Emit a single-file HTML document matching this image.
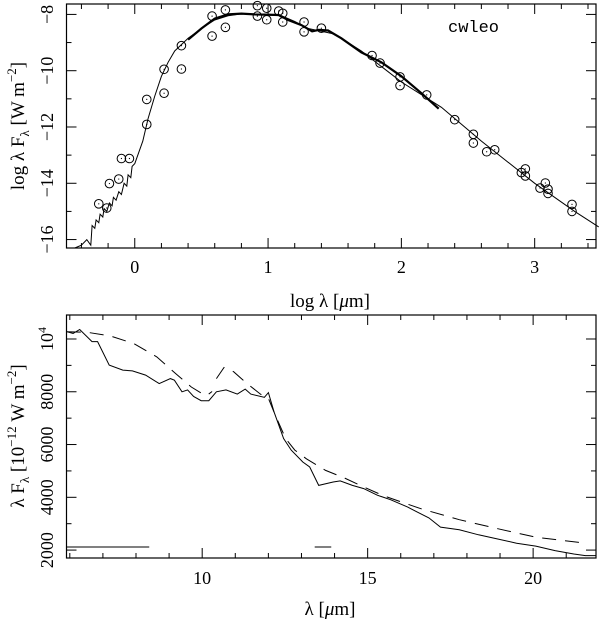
<!DOCTYPE html>
<html><head><meta charset="utf-8">
<style>
body{margin:0;background:#fff;}
svg{display:block;font-family:"Liberation Serif",serif;}
text{fill:#000;}
</style></head>
<body>
<svg id="chart" width="600" height="629" viewBox="0 0 600 629" xmlns="http://www.w3.org/2000/svg">
<rect width="600" height="629" fill="#fff"/>
</svg>
<script>
// ---- Top panel data ----
const topPtsX = [-0.27,-0.21,-0.19,-0.12,-0.10,-0.04,0.09,0.09,0.22,0.22,0.35,0.35,0.58,0.58,0.68,0.68,0.92,0.92,0.99,0.99,1.08,1.11,1.11,1.27,1.27,1.40,1.78,1.84,1.99,1.99,2.19,2.40,2.54,2.54,2.64,2.70,2.90,2.93,2.93,3.04,3.08,3.10,3.10,3.28,3.28];
const topPtsY = [-14.73,-14.88,-14.01,-13.85,-13.12,-13.12,-11.91,-11.02,-9.95,-10.8,-9.11,-9.94,-8.06,-8.77,-7.84,-8.46,-7.69,-8.06,-7.78,-8.19,-7.88,-7.96,-8.27,-8.27,-8.62,-8.49,-9.46,-9.73,-10.22,-10.53,-10.86,-11.74,-12.26,-12.57,-12.88,-12.81,-13.62,-13.49,-13.74,-14.17,-13.99,-14.21,-14.36,-14.75,-15.0];
const modelX = [-0.45,-0.40,-0.36,-0.33,-0.32,-0.30,-0.29,-0.27,-0.26,-0.24,-0.23,-0.21,-0.19,-0.17,-0.16,-0.14,-0.12,-0.10,-0.08,-0.06,-0.05,-0.03,-0.02,0.0,0.03,0.06,0.1,0.15,0.2,0.25,0.3,0.4,0.5,0.6,0.7,0.8,0.9,1.0,1.1,1.2,1.3,1.4,1.5,1.7,2.0,2.3,2.6,3.0,3.3,3.48];
const modelY = [-16.3,-16.2,-16.0,-16.2,-15.5,-15.6,-15.3,-15.4,-15.1,-15.2,-14.9,-15.0,-14.7,-14.8,-14.5,-14.6,-14.3,-14.4,-14.0,-14.1,-13.7,-13.8,-13.4,-13.3,-12.9,-12.5,-11.7,-10.9,-10.2,-9.7,-9.3,-8.85,-8.5,-8.2,-8.05,-7.98,-8.0,-8.02,-8.05,-8.25,-8.5,-8.6,-8.7,-9.3,-10.4,-11.3,-12.5,-14.0,-15.0,-15.55];
const specX = [0.4,0.5,0.6,0.7,0.8,0.9,1.08,1.15,1.25,1.33,1.38,1.45,1.55,1.7,1.85,2.0,2.15,2.28];
const specY = [-8.9,-8.5,-8.15,-8.0,-7.97,-8.0,-8.02,-8.2,-8.38,-8.6,-8.55,-8.57,-8.85,-9.35,-9.7,-10.2,-10.8,-11.35];
const topXTicks = [0,1,2,3];
const topYTicks = [-8,-10,-12,-14,-16];
// ---- Bottom panel data ----
const solidX = [5.91,6.1,6.3,6.67,6.84,7.19,7.6,7.89,8.29,8.7,9.04,9.16,9.39,9.56,9.74,9.97,10.2,10.43,10.72,11.06,11.3,11.47,11.88,12.0,12.17,12.46,12.69,13.04,13.25,13.52,13.96,14.17,14.54,14.88,15.29,15.69,16.21,16.5,16.85,17.2,17.77,18.35,18.93,19.5,20.08,20.66,21.23,21.58,21.9];
const solidY = [10277,10210,10360,9900,9900,9010,8820,8790,8630,8310,8500,8440,8000,8070,7820,7660,7660,8000,8070,7910,8100,7910,7790,7970,7240,6230,5790,5340,5150,4450,4580,4620,4450,4330,4080,3910,3630,3440,3220,2870,2770,2580,2420,2260,2150,1980,1850,1790,1790];
const dashX = [5.91,6.55,7.24,7.93,8.63,9.2,9.67,9.97,10.14,10.3];
const dashY = [10277,10250,10110,9830,9320,8690,8180,7950,7860,8010];
const dash2X = [10.43,10.66,10.95,11.3,11.76,12.0,12.2,12.52,12.8,13.15,13.73,14.3,14.88,15.46,16.03,16.61,17.77,18.93,20.08,21.58];
const dash2Y = [8500,8920,8760,8370,7910,7750,7140,6230,5790,5460,5020,4730,4390,4070,3820,3570,3150,2810,2490,2260];
const botXTicks = [10,15,20];
const botYTicks = [2000,4000,6000,8000,10000];

const NS='http://www.w3.org/2000/svg';
const svg=document.getElementById('chart');
function mk(tag,attrs,parent){const e=document.createElementNS(NS,tag);for(const k in attrs)e.setAttribute(k,attrs[k]);(parent||svg).appendChild(e);return e;}

const T={l:66.5,r:596,t:4,b:248,x0:-0.512,x1:3.46,y0:-16.3,y1:-7.63};
const B={l:66.5,r:596,t:315,b:558,x0:5.9,x1:21.9,y0:1700,y1:10909};
const sx=(P,v)=>P.l+(v-P.x0)/(P.x1-P.x0)*(P.r-P.l);
const sy=(P,v)=>P.b-(v-P.y0)/(P.y1-P.y0)*(P.b-P.t);
function path(P,xs,ys){return xs.map((x,i)=>(i?'L':'M')+sx(P,x).toFixed(1)+','+sy(P,ys[i]).toFixed(1)).join('');}

function frame(P,name,xMinor,yMinor){
  const g=mk('g',{});
  
  
  mk('rect',{x:P.l,y:P.t,width:P.r-P.l,height:P.b-P.t,fill:'none',stroke:'#000','stroke-width':1.2},g);
  const big=(v,list)=>list.some(t=>Math.abs(t-v)<1e-6);
  for(let v=Math.ceil(P.x0/xMinor.s)*xMinor.s;v<=P.x1;v+=xMinor.s){
    const x=sx(P,v),L=big(v,xMinor.major)?10:5;
    mk('line',{x1:x,x2:x,y1:P.b,y2:P.b-L,stroke:'#000'},g);
    mk('line',{x1:x,x2:x,y1:P.t,y2:P.t+L,stroke:'#000'},g);
  }
  for(let v=Math.ceil(P.y0/yMinor.s)*yMinor.s;v<=P.y1;v+=yMinor.s){
    const y=sy(P,v),L=big(v,yMinor.major)?10:5;
    mk('line',{x1:P.l,x2:P.l+L,y1:y,y2:y,stroke:'#000'},g);
    mk('line',{x1:P.r,x2:P.r-L,y1:y,y2:y,stroke:'#000'},g);
  }
}
frame(T,'top-panel',{s:0.2,major:[0,1,2,3]},{s:1,major:[-8,-10,-12,-14,-16]});
frame(B,'bottom-panel',{s:1,major:[10,15,20]},{s:1000,major:[2000,4000,6000,8000,10000]});

topXTicks.forEach(v=>{const t=mk('text',{x:sx(T,v),y:273,'font-size':18,'text-anchor':'middle'});t.textContent=v;

});
topYTicks.forEach(v=>{const y=sy(T,v);const t=mk('text',{x:0,y:0,'font-size':18,'text-anchor':'middle',transform:`translate(53,${y}) rotate(-90)`});t.textContent='\u2212'+Math.abs(v);

});
botXTicks.forEach(v=>{const t=mk('text',{x:sx(B,v),y:584,'font-size':18,'text-anchor':'middle'});t.textContent=v;

});
botYTicks.forEach(v=>{const y=sy(B,v);const t=mk('text',{x:0,y:0,'font-size':18,'text-anchor':'middle',transform:`translate(53,${y}) rotate(-90)`});
if(v===10000){t.innerHTML='10<tspan dy="-7" font-size="12">4</tspan>';}else t.textContent=v;

});

const m=mk('path',{d:path(T,modelX,modelY),fill:'none',stroke:'#000','stroke-width':1});


const s=mk('path',{d:path(T,specX,specY),fill:'none',stroke:'#000','stroke-width':2.2});


topPtsX.forEach((x,i)=>{const g=mk('g',{});


const cx=sx(T,x),cy=sy(T,topPtsY[i]);
mk('circle',{cx,cy,r:4.3,fill:'none',stroke:'#000','stroke-width':1},g);
mk('circle',{cx,cy,r:0.6,fill:'#000'},g);});

const bs=mk('path',{d:path(B,solidX,solidY),fill:'none',stroke:'#000','stroke-width':1});


const bd1=mk('path',{d:path(B,dashX,dashY),fill:'none',stroke:'#000','stroke-width':1,'stroke-dasharray':'14,9'});


const bd2=mk('path',{d:path(B,dash2X,dash2Y),fill:'none',stroke:'#000','stroke-width':1,'stroke-dasharray':'14,9'});


const l1=mk('line',{x1:sx(B,5.9),x2:sx(B,8.4),y1:547,y2:547,stroke:'#000'});


const l2=mk('line',{x1:sx(B,13.4),x2:sx(B,13.9),y1:547,y2:547,stroke:'#000'});


</script>
<svg style="position:absolute;left:0;top:0" width="600" height="629">
<text x="448" y="32" font-size="17" font-family="Liberation Mono, monospace">cwleo</text>
<text x="330" y="307" font-size="19" text-anchor="middle" font-family="Liberation Serif, serif">log λ [<tspan font-style="italic">μ</tspan>m]</text>
<text transform="translate(24,126) rotate(-90)" font-size="19" text-anchor="middle" font-family="Liberation Serif, serif">log λ F<tspan dy="5" font-size="13">λ</tspan><tspan dy="-5"> [W m</tspan><tspan dy="-8" font-size="13">−2</tspan><tspan dy="8">]</tspan></text>
<text x="330" y="615" font-size="19" text-anchor="middle" font-family="Liberation Serif, serif">λ [<tspan font-style="italic">μ</tspan>m]</text>
<text transform="translate(24,436) rotate(-90)" font-size="19" text-anchor="middle" font-family="Liberation Serif, serif">λ F<tspan dy="5" font-size="13">λ</tspan><tspan dy="-5"> [10</tspan><tspan dy="-8" font-size="13">−12</tspan><tspan dy="8"> W m</tspan><tspan dy="-8" font-size="13">−2</tspan><tspan dy="8">]</tspan></text>
</svg>
</body></html>
